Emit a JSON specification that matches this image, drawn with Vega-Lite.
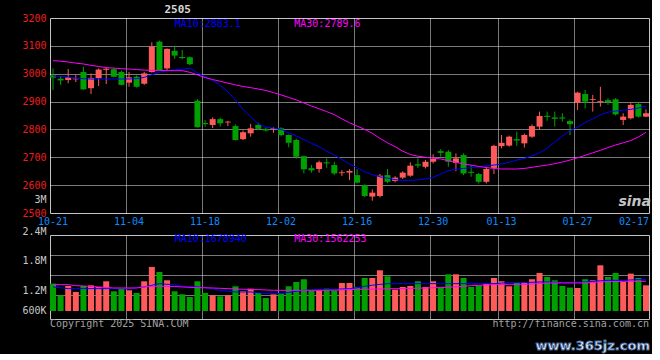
{
"$schema": "https://vega.github.io/schema/vega-lite/v6.json",
"background": "#000000",
"padding": {"left": 21, "top": 3, "right": 0, "bottom": 0},
"spacing": 22,
"bounds": "flush",
"config": {
  "view": {"stroke": "#c4c4c4", "fill": "#000000", "strokeWidth": 1},
  "font": "DejaVu Sans Mono",
  "axis": {"domain": false, "ticks": false, "labelFont": "DejaVu Sans Mono", "labelFontSize": 10, "gridColor": "#f2f2f2", "gridDash": [1, 1], "gridWidth": 1, "title": null, "labelOverlap": false, "labelBound": false, "labelFlush": false}
},
"datasets": {
"k": [
{"d":"10-21","o":2994,"h":3019,"l":2942,"c":2986,"v":1248000,"m10":2992,"m30":3047,"vm10":1169000,"vm30":1224000},
{"d":"10-22","o":2982,"h":2992,"l":2960,"c":2976,"v":972000,"m10":2990,"m30":3045,"vm10":1150000,"vm30":1224000},
{"d":"10-23","o":2977,"h":3017,"l":2966,"c":2987,"v":1193000,"m10":2988,"m30":3042,"vm10":1129000,"vm30":1224000},
{"d":"10-24","o":2980,"h":2995,"l":2970,"c":2983,"v":1051000,"m10":2984,"m30":3038,"vm10":1129000,"vm30":1200000},
{"d":"10-25","o":3006,"h":3025,"l":2942,"c":2944,"v":1193000,"m10":2982,"m30":3035,"vm10":1129000,"vm30":1193000},
{"d":"10-28","o":2948,"h":3001,"l":2927,"c":2985,"v":1208000,"m10":2981,"m30":3030,"vm10":1129000,"vm30":1180000},
{"d":"10-29","o":2984,"h":3019,"l":2956,"c":3015,"v":1169000,"m10":2981,"m30":3026,"vm10":1129000,"vm30":1169000},
{"d":"10-30","o":3014,"h":3023,"l":2963,"c":3018,"v":1303000,"m10":2981,"m30":3022,"vm10":1129000,"vm30":1157000},
{"d":"10-31","o":3016,"h":3021,"l":2987,"c":2989,"v":1066000,"m10":2981,"m30":3020,"vm10":1129000,"vm30":1145000},
{"d":"11-01","o":3006,"h":3011,"l":2958,"c":2960,"v":1129000,"m10":2981,"m30":3018,"vm10":1129000,"vm30":1145000},
{"d":"11-04","o":2968,"h":3006,"l":2953,"c":2987,"v":1090000,"m10":2981,"m30":3017,"vm10":1129000,"vm30":1145000},
{"d":"11-05","o":2989,"h":2994,"l":2950,"c":2953,"v":1027000,"m10":2982,"m30":3015,"vm10":1150000,"vm30":1145000},
{"d":"11-06","o":2964,"h":3006,"l":2960,"c":3001,"v":1303000,"m10":2987,"m30":3013,"vm10":1169000,"vm30":1170000},
{"d":"11-07","o":3006,"h":3113,"l":3004,"c":3097,"v":1643000,"m10":2996,"m30":3012,"vm10":1209000,"vm30":1185000},
{"d":"11-08","o":3115,"h":3119,"l":3011,"c":3013,"v":1524000,"m10":3005,"m30":3012,"vm10":1248000,"vm30":1185000},
{"d":"11-11","o":3019,"h":3091,"l":3013,"c":3089,"v":1327000,"m10":3011,"m30":3011,"vm10":1232000,"vm30":1185000},
{"d":"11-12","o":3082,"h":3100,"l":3053,"c":3065,"v":1066000,"m10":3014,"m30":3011,"vm10":1224000,"vm30":1180000},
{"d":"11-13","o":3060,"h":3085,"l":3052,"c":3056,"v":995000,"m10":3016,"m30":3011,"vm10":1185000,"vm30":1169000},
{"d":"11-14","o":3059,"h":3062,"l":3030,"c":3034,"v":932000,"m10":3020,"m30":3005,"vm10":1169000,"vm30":1160000},
{"d":"11-15","o":2903,"h":2909,"l":2806,"c":2808,"v":1303000,"m10":3003,"m30":2996,"vm10":1169000,"vm30":1155000},
{"d":"11-18","o":2823,"h":2834,"l":2810,"c":2819,"v":1027000,"m10":2990,"m30":2986,"vm10":1150000,"vm30":1150000},
{"d":"11-19","o":2816,"h":2843,"l":2805,"c":2837,"v":972000,"m10":2976,"m30":2979,"vm10":1129000,"vm30":1145000},
{"d":"11-20","o":2837,"h":2842,"l":2810,"c":2822,"v":948000,"m10":2958,"m30":2973,"vm10":1080000,"vm30":1137000},
{"d":"11-21","o":2825,"h":2831,"l":2812,"c":2828,"v":972000,"m10":2935,"m30":2966,"vm10":1066000,"vm30":1129000},
{"d":"11-22","o":2812,"h":2818,"l":2760,"c":2762,"v":1185000,"m10":2905,"m30":2960,"vm10":1051000,"vm30":1122000},
{"d":"11-25","o":2765,"h":2796,"l":2762,"c":2790,"v":1074000,"m10":2872,"m30":2954,"vm10":1051000,"vm30":1115000},
{"d":"11-26","o":2786,"h":2820,"l":2774,"c":2804,"v":1129000,"m10":2845,"m30":2950,"vm10":1051000,"vm30":1110000},
{"d":"11-27","o":2816,"h":2824,"l":2798,"c":2802,"v":1027000,"m10":2820,"m30":2945,"vm10":1030000,"vm30":1106000},
{"d":"11-28","o":2802,"h":2808,"l":2792,"c":2796,"v":908000,"m10":2808,"m30":2940,"vm10":1011000,"vm30":1098000},
{"d":"11-29","o":2802,"h":2808,"l":2788,"c":2805,"v":995000,"m10":2805,"m30":2932,"vm10":1011000,"vm30":1090000},
{"d":"12-02","o":2804,"h":2808,"l":2776,"c":2780,"v":1027000,"m10":2800,"m30":2924,"vm10":1011000,"vm30":1090000},
{"d":"12-03","o":2780,"h":2782,"l":2736,"c":2752,"v":1185000,"m10":2788,"m30":2915,"vm10":1040000,"vm30":1090000},
{"d":"12-04","o":2762,"h":2767,"l":2695,"c":2702,"v":1287000,"m10":2776,"m30":2906,"vm10":1066000,"vm30":1090000},
{"d":"12-05","o":2704,"h":2706,"l":2642,"c":2657,"v":1351000,"m10":2764,"m30":2895,"vm10":1090000,"vm30":1090000},
{"d":"12-06","o":2661,"h":2672,"l":2645,"c":2653,"v":1090000,"m10":2750,"m30":2884,"vm10":1098000,"vm30":1090000},
{"d":"12-09","o":2658,"h":2688,"l":2645,"c":2682,"v":1090000,"m10":2738,"m30":2874,"vm10":1106000,"vm30":1090000},
{"d":"12-10","o":2682,"h":2696,"l":2662,"c":2678,"v":1129000,"m10":2722,"m30":2864,"vm10":1106000,"vm30":1090000},
{"d":"12-11","o":2672,"h":2684,"l":2636,"c":2642,"v":1090000,"m10":2708,"m30":2853,"vm10":1115000,"vm30":1095000},
{"d":"12-12","o":2643,"h":2654,"l":2633,"c":2646,"v":1264000,"m10":2692,"m30":2838,"vm10":1122000,"vm30":1100000},
{"d":"12-13","o":2645,"h":2657,"l":2618,"c":2651,"v":1264000,"m10":2676,"m30":2824,"vm10":1129000,"vm30":1106000},
{"d":"12-16","o":2636,"h":2657,"l":2606,"c":2609,"v":1169000,"m10":2662,"m30":2812,"vm10":1150000,"vm30":1112000},
{"d":"12-17","o":2600,"h":2603,"l":2557,"c":2561,"v":1382000,"m10":2648,"m30":2800,"vm10":1185000,"vm30":1114000},
{"d":"12-18","o":2559,"h":2585,"l":2544,"c":2573,"v":1382000,"m10":2638,"m30":2786,"vm10":1210000,"vm30":1118000},
{"d":"12-19","o":2561,"h":2640,"l":2556,"c":2634,"v":1564000,"m10":2630,"m30":2768,"vm10":1230000,"vm30":1122000},
{"d":"12-20","o":2636,"h":2658,"l":2607,"c":2612,"v":1422000,"m10":2625,"m30":2752,"vm10":1248000,"vm30":1125000},
{"d":"12-23","o":2615,"h":2632,"l":2610,"c":2627,"v":1106000,"m10":2620,"m30":2738,"vm10":1248000,"vm30":1129000},
{"d":"12-24","o":2627,"h":2650,"l":2622,"c":2645,"v":1169000,"m10":2617,"m30":2722,"vm10":1248000,"vm30":1129000},
{"d":"12-25","o":2634,"h":2682,"l":2630,"c":2670,"v":1193000,"m10":2617,"m30":2710,"vm10":1248000,"vm30":1135000},
{"d":"12-26","o":2675,"h":2696,"l":2661,"c":2670,"v":1303000,"m10":2619,"m30":2704,"vm10":1248000,"vm30":1140000},
{"d":"12-27","o":2666,"h":2690,"l":2660,"c":2684,"v":1169000,"m10":2622,"m30":2700,"vm10":1248000,"vm30":1145000},
{"d":"12-30","o":2684,"h":2711,"l":2678,"c":2694,"v":1303000,"m10":2628,"m30":2697,"vm10":1248000,"vm30":1150000},
{"d":"12-31","o":2722,"h":2729,"l":2702,"c":2716,"v":1153000,"m10":2640,"m30":2694,"vm10":1248000,"vm30":1155000},
{"d":"01-02","o":2720,"h":2726,"l":2666,"c":2684,"v":1469000,"m10":2652,"m30":2688,"vm10":1248000,"vm30":1163000},
{"d":"01-03","o":2680,"h":2714,"l":2650,"c":2696,"v":1469000,"m10":2657,"m30":2682,"vm10":1248000,"vm30":1169000},
{"d":"01-06","o":2708,"h":2714,"l":2636,"c":2642,"v":1382000,"m10":2660,"m30":2676,"vm10":1248000,"vm30":1185000},
{"d":"01-07","o":2648,"h":2672,"l":2630,"c":2644,"v":1169000,"m10":2663,"m30":2672,"vm10":1248000,"vm30":1200000},
{"d":"01-08","o":2640,"h":2644,"l":2606,"c":2612,"v":1208000,"m10":2666,"m30":2667,"vm10":1248000,"vm30":1208000},
{"d":"01-09","o":2612,"h":2666,"l":2606,"c":2658,"v":1248000,"m10":2669,"m30":2663,"vm10":1248000,"vm30":1215000},
{"d":"01-10","o":2662,"h":2745,"l":2640,"c":2741,"v":1382000,"m10":2672,"m30":2660,"vm10":1248000,"vm30":1224000},
{"d":"01-13","o":2740,"h":2780,"l":2732,"c":2752,"v":1303000,"m10":2676,"m30":2658,"vm10":1260000,"vm30":1230000},
{"d":"01-14","o":2742,"h":2778,"l":2738,"c":2774,"v":1185000,"m10":2682,"m30":2658,"vm10":1272000,"vm30":1232000},
{"d":"01-15","o":2765,"h":2792,"l":2741,"c":2760,"v":1272000,"m10":2690,"m30":2658,"vm10":1272000,"vm30":1232000},
{"d":"01-16","o":2750,"h":2785,"l":2735,"c":2780,"v":1287000,"m10":2696,"m30":2660,"vm10":1272000,"vm30":1232000},
{"d":"01-17","o":2774,"h":2818,"l":2770,"c":2812,"v":1351000,"m10":2705,"m30":2664,"vm10":1280000,"vm30":1240000},
{"d":"01-20","o":2810,"h":2864,"l":2798,"c":2848,"v":1501000,"m10":2716,"m30":2668,"vm10":1287000,"vm30":1250000},
{"d":"01-21","o":2849,"h":2864,"l":2831,"c":2845,"v":1406000,"m10":2732,"m30":2672,"vm10":1287000,"vm30":1262000},
{"d":"01-22","o":2843,"h":2864,"l":2810,"c":2838,"v":1327000,"m10":2755,"m30":2677,"vm10":1280000,"vm30":1264000},
{"d":"01-23","o":2843,"h":2858,"l":2828,"c":2839,"v":1193000,"m10":2775,"m30":2683,"vm10":1275000,"vm30":1264000},
{"d":"01-24","o":2830,"h":2836,"l":2780,"c":2819,"v":1153000,"m10":2795,"m30":2690,"vm10":1272000,"vm30":1264000},
{"d":"01-27","o":2896,"h":2935,"l":2870,"c":2932,"v":1145000,"m10":2808,"m30":2698,"vm10":1280000,"vm30":1264000},
{"d":"02-05","o":2927,"h":2942,"l":2876,"c":2900,"v":1351000,"m10":2825,"m30":2707,"vm10":1287000,"vm30":1264000},
{"d":"02-06","o":2906,"h":2924,"l":2864,"c":2909,"v":1327000,"m10":2838,"m30":2716,"vm10":1300000,"vm30":1275000},
{"d":"02-07","o":2899,"h":2953,"l":2882,"c":2902,"v":1682000,"m10":2852,"m30":2725,"vm10":1315000,"vm30":1287000},
{"d":"02-10","o":2905,"h":2912,"l":2888,"c":2898,"v":1406000,"m10":2862,"m30":2735,"vm10":1327000,"vm30":1292000},
{"d":"02-11","o":2908,"h":2912,"l":2850,"c":2854,"v":1501000,"m10":2866,"m30":2744,"vm10":1327000,"vm30":1297000},
{"d":"02-12","o":2834,"h":2858,"l":2816,"c":2846,"v":1287000,"m10":2869,"m30":2752,"vm10":1327000,"vm30":1303000},
{"d":"02-13","o":2840,"h":2894,"l":2836,"c":2888,"v":1485000,"m10":2872,"m30":2760,"vm10":1335000,"vm30":1303000},
{"d":"02-14","o":2891,"h":2898,"l":2842,"c":2846,"v":1382000,"m10":2877,"m30":2773,"vm10":1343000,"vm30":1303000},
{"d":"02-17","o":2846,"h":2872,"l":2844,"c":2858,"v":1208000,"m10":2883.1,"m30":2789.6,"vm10":1343000,"vm30":1303000}
]
},
"vconcat": [
{
  "width": 599,
  "height": 195,
  "data": {"name": "k"},
  "encoding": {
    "x": {"field": "d", "type": "ordinal", "sort": null,
      "scale": {"type": "band", "paddingInner": 0.21, "paddingOuter": 0,
        "domain": ["10-21","10-22","10-23","10-24","10-25","10-28","10-29","10-30","10-31","11-01","11-04","11-05","11-06","11-07","11-08","11-11","11-12","11-13","11-14","11-15","11-18","11-19","11-20","11-21","11-22","11-25","11-26","11-27","11-28","11-29","12-02","12-03","12-04","12-05","12-06","12-09","12-10","12-11","12-12","12-13","12-16","12-17","12-18","12-19","12-20","12-23","12-24","12-25","12-26","12-27","12-30","12-31","01-02","01-03","01-06","01-07","01-08","01-09","01-10","01-13","01-14","01-15","01-16","01-17","01-20","01-21","01-22","01-23","01-24","01-27","02-05","02-06","02-07","02-10","02-11","02-12","02-13","02-14","02-17"]},
      "axis": {"bandPosition": 0, "values": ["10-21","11-04","11-18","12-02","12-16","12-30","01-13","01-27","02-17"], "labelAngle": 0, "labelColor": "#0a8cff", "labelPadding": 3, "labelBaseline": "top", "grid": true, "labelOverlap": false,
        "gridOpacity": {"condition": {"test": "datum.value == '10-21' || datum.value == '02-17'", "value": 0}, "value": 1},
        "labelOffset": {"condition": {"test": "datum.value == '02-17'", "value": -12}, "value": 0}}
    }
  },
  "layer": [
    {"mark": {"type": "rule", "strokeWidth": 1},
     "encoding": {
       "y": {"field": "l", "type": "quantitative", "scale": {"domain": [2500, 3200], "nice": false, "zero": false},
         "axis": {"values": [2500, 2547, 2600, 2700, 2800, 2900, 3000, 3100, 3200], "tickCount": 50, "format": "d", "labelPadding": 4, "grid": true, "labelOverlap": false,
           "labelExpr": "datum.value == 2547 ? '3M' : datum.label",
           "labelColor": {"condition": {"test": "datum.value == 2547", "value": "#c8c8c8"}, "value": "#ee1c1c"},
           "gridOpacity": {"condition": {"test": "datum.value == 2547 || datum.value == 2500 || datum.value == 3200", "value": 0}, "value": 1}}},
       "y2": {"field": "h"},
       "color": {"condition": {"test": "datum.c >= datum.o", "value": "#ff5a5a"}, "value": "#00a000"}
     }},
    {"mark": {"type": "bar"},
     "encoding": {
       "y": {"field": "o", "type": "quantitative"},
       "y2": {"field": "c"},
       "color": {"condition": {"test": "datum.c >= datum.o", "value": "#ff5a5a"}, "value": "#00a000"}
     }},
    {"mark": {"type": "line", "color": "#0000ff", "strokeWidth": 1},
     "encoding": {"y": {"field": "m10", "type": "quantitative"}}},
    {"mark": {"type": "line", "color": "#ff00ff", "strokeWidth": 1},
     "encoding": {"y": {"field": "m30", "type": "quantitative"}}},
    {"data": {"values": [{}]},
     "mark": {"type": "text", "text": "MA10:2883.1", "align": "left", "baseline": "middle", "dx": 0, "color": "#0000ff", "font": "DejaVu Sans Mono", "fontSize": 10},
     "encoding": {"x": {"datum": "11-12"}, "y": {"datum": 3178, "type": "quantitative"}}},
    {"data": {"values": [{}]},
     "mark": {"type": "text", "text": "MA30:2789.6", "align": "left", "baseline": "middle", "dx": -2, "color": "#ff00ff", "font": "DejaVu Sans Mono", "fontSize": 10},
     "encoding": {"x": {"datum": "12-04"}, "y": {"datum": 3178, "type": "quantitative"}}},
    {"data": {"values": [{}]},
     "mark": {"type": "text", "text": "2505", "align": "center", "baseline": "middle", "dx": 3, "color": "#d8d8d8", "font": "DejaVu Sans Mono", "fontSize": 11, "fontWeight": "bold"},
     "encoding": {"x": {"datum": "11-12"}, "y": {"datum": 3230, "type": "quantitative"}}},
    {"data": {"values": [{}]},
     "mark": {"type": "text", "text": "sina", "align": "right", "baseline": "middle", "dx": 5, "color": "#c4c4c4", "font": "DejaVu Sans", "fontSize": 14, "fontStyle": "italic", "fontWeight": "bold"},
     "encoding": {"x": {"datum": "02-17"}, "y": {"datum": 2541, "type": "quantitative"}}}
  ]
},
{
  "width": 599,
  "height": 84,
  "data": {"name": "k"},
  "encoding": {
    "x": {"field": "d", "type": "ordinal", "sort": null,
      "scale": {"type": "band", "paddingInner": 0.21, "paddingOuter": 0,
        "domain": ["10-21","10-22","10-23","10-24","10-25","10-28","10-29","10-30","10-31","11-01","11-04","11-05","11-06","11-07","11-08","11-11","11-12","11-13","11-14","11-15","11-18","11-19","11-20","11-21","11-22","11-25","11-26","11-27","11-28","11-29","12-02","12-03","12-04","12-05","12-06","12-09","12-10","12-11","12-12","12-13","12-16","12-17","12-18","12-19","12-20","12-23","12-24","12-25","12-26","12-27","12-30","12-31","01-02","01-03","01-06","01-07","01-08","01-09","01-10","01-13","01-14","01-15","01-16","01-17","01-20","01-21","01-22","01-23","01-24","01-27","02-05","02-06","02-07","02-10","02-11","02-12","02-13","02-14","02-17"]},
      "axis": {"bandPosition": 0, "values": ["10-21","11-04","11-18","12-02","12-16","12-30","01-13","01-27","02-17"], "labels": false, "grid": true,
        "gridOpacity": {"condition": {"test": "datum.value == '10-21' || datum.value == '02-17'", "value": 0}, "value": 1}}
    }
  },
  "layer": [
    {"mark": {"type": "bar"},
     "encoding": {
       "y": {"field": "v", "type": "quantitative", "scale": {"domain": [410000, 2400000], "nice": false, "zero": false},
         "axis": {"values": [600000, 972000, 1200000, 1445000, 1800000, 1919000, 2400000], "tickCount": 50, "labelPadding": 4, "grid": true, "labelColor": "#c8c8c8", "labelOverlap": false,
           "labelExpr": "datum.value == 600000 ? '600K' : datum.value == 1200000 ? '1.2M' : datum.value == 1800000 ? '1.8M' : datum.value == 2400000 ? '2.4M' : ''",
           "labelOffset": {"condition": [{"test": "datum.value == 1200000", "value": 5}, {"test": "datum.value == 2400000", "value": -4}], "value": 0},
           "gridOpacity": {"condition": {"test": "datum.value == 972000 || datum.value == 1445000 || datum.value == 1919000", "value": 1}, "value": 0}}},
       "y2": {"datum": 600000},
       "color": {"condition": {"test": "datum.c >= datum.o", "value": "#ff5a5a"}, "value": "#00a000"}
     }},
    {"mark": {"type": "line", "color": "#0000ff", "strokeWidth": 1},
     "encoding": {"y": {"field": "vm10", "type": "quantitative"}}},
    {"mark": {"type": "line", "color": "#ff00ff", "strokeWidth": 1},
     "encoding": {"y": {"field": "vm30", "type": "quantitative"}}},
    {"data": {"values": [{}]},
     "mark": {"type": "text", "text": "MA10:1678940", "align": "left", "baseline": "middle", "dx": 0, "color": "#0000ff", "font": "DejaVu Sans Mono", "fontSize": 10},
     "encoding": {"x": {"datum": "11-12"}, "y": {"datum": 2312000, "type": "quantitative"}}},
    {"data": {"values": [{}]},
     "mark": {"type": "text", "text": "MA30:1562253", "align": "left", "baseline": "middle", "dx": -2, "color": "#ff00ff", "font": "DejaVu Sans Mono", "fontSize": 10},
     "encoding": {"x": {"datum": "12-04"}, "y": {"datum": 2312000, "type": "quantitative"}}},
    {"data": {"values": [{}]},
     "mark": {"type": "text", "text": "Copyright 2025 SINA.COM", "align": "left", "baseline": "middle", "dx": -3, "color": "#a0a0a0", "font": "DejaVu Sans Mono", "fontSize": 10},
     "encoding": {"x": {"datum": "10-21"}, "y": {"datum": 292000, "type": "quantitative"}}},
    {"data": {"values": [{}]},
     "mark": {"type": "text", "text": "http://finance.sina.com.cn", "align": "right", "baseline": "middle", "dx": 3, "color": "#a0a0a0", "font": "DejaVu Sans Mono", "fontSize": 10},
     "encoding": {"x": {"datum": "02-17"}, "y": {"datum": 292000, "type": "quantitative"}}},
    {"data": {"values": [{}]},
     "mark": {"type": "text", "text": "www.365jz.com", "align": "right", "baseline": "middle", "dx": 4, "fill": "#e6edf8", "stroke": "#3b5f95", "strokeWidth": 0.8, "font": "DejaVu Sans", "fontSize": 13, "fontWeight": "bold"},
     "encoding": {"x": {"datum": "02-17"}, "y": {"datum": -230000, "type": "quantitative"}}}
  ]
}
]
}
